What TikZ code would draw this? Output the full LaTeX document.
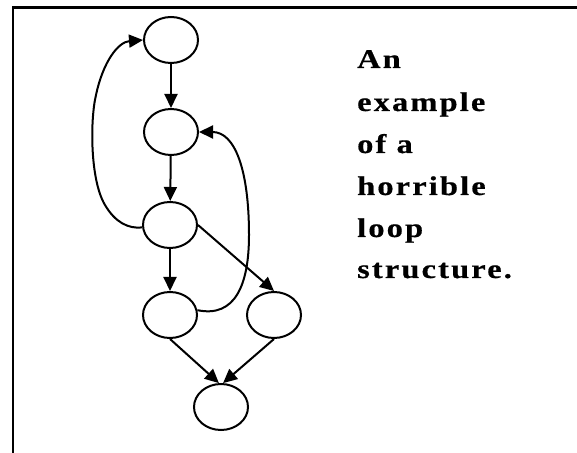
\documentclass[tikz,border=0pt]{standalone}
\usepackage{fontspec}
\setmainfont{Liberation Serif}
\newfontfamily\spacedfont[FakeStretch=1.2,LetterSpace=8,FakeBold=0.6]{Liberation Serif}
\usetikzlibrary{shapes.geometric,arrows.meta}
\begin{document}
\begin{tikzpicture}[x=1bp,y=-1bp,
  state/.style={draw,ellipse,line width=2bp,minimum width=54bp,minimum height=46bp,inner sep=0pt},
  arr/.style={line width=2bp,-{Triangle[length=14bp,width=13bp]}},
  frameline/.style={line width=2.4bp},
  words/.style={anchor=base west,inner sep=0pt,font=\fontsize{27bp}{32bp}\spacedfont\bfseries}]
\useasboundingbox (0,0) rectangle (577,453);
\fill[white] (0,0) rectangle (577,453);
% frame
\coordinate (fc) at (13,7.5);
\coordinate (fr) at (577,7.5);
\coordinate (fb) at (13,453);
\draw[frameline] (fb) -- (fc) -- (fr);
% nodes
\node[state] (n1) at (171,40) {};
\node[state] (n2) at (171,132) {};
\node[state] (n3) at (170,225) {};
\node[state] (n4) at (170,315) {};
\node[state] (n5) at (274,315) {};
\node[state] (n6) at (221,407) {};
% straight edges
\draw[arr] (n1) -- (n2);
\draw[arr] (n2) -- (n3);
\draw[arr] (n3) -- (n4);
\draw[arr] (n3.east) -- (n5.north);
\draw[arr] (n4.south) -- (n6.95);
\draw[arr] (n5.south) -- (n6.85);
% loops
\draw[arr] (n3.185) .. controls (128,229) and (115,222) .. (105,205)
  .. controls (90,180) and (90,120) .. (96,95)
  .. controls (103,62) and (118,42) .. (n1.west);
\draw[arr] (n4.10) .. controls (235,318) and (249,285) .. (249,235)
  .. controls (249,170) and (235,132) .. (n2.east);
% text
\node[words] (t1) at (357,68) {An};
\node[words] (t2) at (357,111) {example};
\node[words] (t3) at (357,153) {of a};
\node[words] (t4) at (357,195) {horrible};
\node[words] (t5) at (357,237) {loop};
\node[words] (t6) at (357,278) {structure.};
\end{tikzpicture}
\end{document}
